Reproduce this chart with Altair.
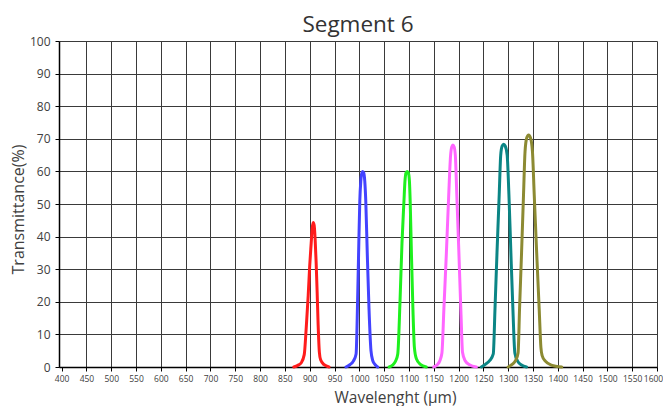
import altair as alt
import pandas as pd

# ---- data ----
series_names = ["Red", "Blue", "Green", "Magenta", "Teal", "Olive"]
series_colors = ["#ff1c1c", "#4343ff", "#1ef01e", "#ff66ff", "#0b8585", "#8c8a32"]

red_wl = [868, 876, 883, 889, 893, 897, 900, 903, 905, 907, 909, 911, 913, 915, 917, 919.5, 922, 929, 939]
red_t = [0, 0.5, 1.3, 3.8, 12, 22, 31, 38, 42.5, 44.3, 43.5, 39, 32, 23, 13, 4.5, 2.2, 0.7, 0]

blue_wl = [973, 981, 988, 993.5, 996.5, 999, 1001, 1003, 1005, 1006.7, 1009, 1011, 1013, 1016, 1019.5, 1023.5, 1027, 1032, 1037]
blue_t = [0, 0.7, 1.8, 4, 20, 38, 51, 57, 59.5, 60, 59.5, 57, 51, 35, 18, 5, 2, 0.7, 0]

green_wl = [1060, 1068, 1073, 1077.5, 1082, 1086, 1090, 1092, 1094, 1096.5, 1099, 1101, 1102.5, 1105, 1108, 1111, 1115, 1123, 1135]
green_t = [0, 0.7, 1.8, 4, 20, 38, 51, 57, 59.5, 60, 59.5, 57, 51, 35, 18, 6, 2.5, 0.8, 0]

magenta_wl = [1150, 1157, 1162, 1166.5, 1170.5, 1175.5, 1180, 1184, 1186.5, 1188.7, 1191, 1193.5, 1196.7, 1200.7, 1205, 1208, 1213, 1222, 1236]
magenta_t = [0, 0.7, 1.8, 4.3, 18, 35, 52, 65, 67.6, 68.1, 67.6, 65, 52, 35, 16, 4.5, 2, 0.7, 0]

teal_wl = [1246, 1254, 1263, 1270, 1273.5, 1277.5, 1282, 1285, 1288, 1291, 1294, 1298, 1301.5, 1305.5, 1309.5, 1313.5, 1319, 1327, 1337]
teal_t = [0, 0.8, 2, 4, 18, 35, 53, 65, 67.8, 68.3, 67.8, 65, 53, 35, 18, 4.3, 1.8, 0.6, 0]

olive_wl = [1300, 1308, 1315, 1320, 1323, 1327, 1331, 1334, 1337.5, 1341.2, 1345, 1349, 1352.5, 1357.5, 1362.5, 1366, 1368.5, 1375, 1387, 1408]
olive_t = [0, 0.8, 2, 4.3, 18, 35, 53, 66, 70.3, 71.2, 70.3, 66, 53, 35, 18, 6, 3.5, 1.8, 0.6, 0]

x_ticks = [400, 450, 500, 550, 600, 650, 700, 750, 800, 850, 900, 950, 1000,
           1050, 1100, 1150, 1200, 1250, 1300, 1350, 1400, 1450, 1500, 1550, 1600]
y_ticks = [0, 10, 20, 30, 40, 50, 60, 70, 80, 90, 100]

all_wl = [red_wl, blue_wl, green_wl, magenta_wl, teal_wl, olive_wl]
all_t = [red_t, blue_t, green_t, magenta_t, teal_t, olive_t]

rows = []
for name, wls, ts in zip(series_names, all_wl, all_t):
    for w, v in zip(wls, ts):
        rows.append({"series": name, "wl": w, "t": v})
df = pd.DataFrame(rows)

FONT = "Open Sans"
GRID = "#3a3a3a"

chart = alt.Chart(df).mark_line(
    strokeWidth=3, interpolate="monotone", strokeCap="round", strokeJoin="round"
).encode(
    x=alt.X("wl:Q",
            scale=alt.Scale(domain=[394.7, 1600], nice=False, zero=False),
            axis=alt.Axis(values=x_ticks, format="d", title="Wavelenght (µm)", labelFontSize=8.5,
                          labelPadding=3, labelFlush=False, labelOverlap=False,
                          labelOffset=alt.condition("datum.value == 1600", alt.value(-4), alt.value(0)),
                          gridColor=alt.condition("datum.value == 400", alt.value("transparent"), alt.value(GRID)),
                          titleFontSize=15.5, titleX=336, titleY=35,
                          titleBaseline="alphabetic", titleAlign="center")),
    y=alt.Y("t:Q",
            scale=alt.Scale(domain=[0, 100], nice=False),
            axis=alt.Axis(values=y_ticks, format="d", title="Transmittance(%)", labelFontSize=12,
                          labelPadding=5, titleFontSize=16, titleX=-40.5, titleY=168,
                          titleBaseline="middle", titleAlign="center", titleAngle=270)),
    color=alt.Color("series:N",
                    scale=alt.Scale(domain=series_names, range=series_colors),
                    legend=None),
).properties(
    width=598,
    height=326,
    title=alt.TitleParams("Segment 6", font=FONT, fontSize=22.5, fontWeight="normal",
                          color="#333333", anchor="middle", offset=1, dy=2),
    autosize=alt.AutoSizeParams(type="none"),
    padding={"left": 51, "top": 33, "right": 6, "bottom": 39},
).configure_view(
    stroke=None
).configure_axis(
    labelFont=FONT, titleFont=FONT, titleFontWeight="normal",
    labelColor="#404040", titleColor="#404040",
    grid=True, gridColor=GRID, gridWidth=1, gridOpacity=1,
    domainColor="#000000", domainWidth=1.5,
    tickColor="#000000", tickSize=4, tickWidth=1,
)

chart.save("out.html", embed_options={"renderer": "svg", "actions": False})
